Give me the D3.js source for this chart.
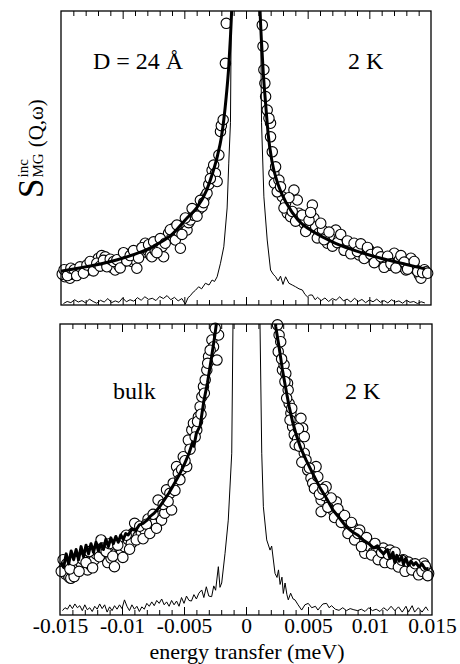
<!DOCTYPE html>
<html><head><meta charset="utf-8">
<script src="https://cdn.jsdelivr.net/npm/d3@7"></script>
<style>body{margin:0;background:#fff}svg{display:block}</style>
</head><body><svg id="c" width="460" height="664"></svg>
<script>
// ---------------- data ----------------
const xTickLabels = ["-0.015","-0.01","-0.005","0","0.005","0.01","0.015"];
const xTickValues = [-0.015,-0.01,-0.005,0,0.005,0.01,0.015];
const panelLabels = [["D = 24 Å","2 K"],["bulk","2 K"]];

// top panel (D = 24 Å) measured points
const topPtsX = [-0.01468,-0.01455,-0.01441,-0.01427,-0.01413,-0.01400,-0.01386,-0.01360,-0.01332,-0.01305,-0.01278,-0.01250,-0.01224,-0.01197,-0.01170,-0.01142,-0.01115,-0.01088,-0.01061,-0.01034,-0.01006,-0.00980,-0.00952,-0.00925,-0.00898,-0.00885,-0.00858,-0.00830,-0.00817,-0.00803,-0.00776,-0.00763,-0.00736,-0.00709,-0.00681,-0.00668,-0.00641,-0.00628,-0.00600,-0.00587,-0.00573,-0.00546,-0.00532,-0.00505,-0.00478,-0.00465,-0.00451,-0.00424,-0.00410,-0.00383,-0.00356,-0.00330,-0.00316,-0.00302,-0.00275,-0.00262,-0.00248,-0.00234,-0.00220,-0.00207,-0.00200,-0.00185,-0.00167,-0.00160,
 -0.01490,-0.01475,-0.01448,-0.01420,-0.01393,-0.01373,-0.01346,-0.01318,-0.01290,-0.01264,-0.01237,-0.01210,-0.01183,-0.01156,-0.01128,-0.01101,-0.01074,-0.01047,-0.01020,-0.00993,-0.00966,-0.00939,-0.00912,-0.00871,-0.00844,-0.00790,-0.00749,-0.00722,-0.00695,-0.00655,-0.00614,-0.00560,-0.00519,-0.00492,-0.00437,-0.00397,-0.00370,-0.00343,-0.00289,
 0.00132,0.00145,0.00153,0.00159,0.00172,0.00199,0.00199,0.00213,0.00226,0.00230,0.00267,0.00294,0.00321,0.00335,0.00362,0.00389,0.00416,0.00429,0.00443,0.00470,0.00497,0.00538,0.00551,0.00565,0.00592,0.00620,0.00646,0.00660,0.00687,0.00714,0.00728,0.00755,0.00782,0.00809,0.00836,0.00863,0.00890,0.00917,0.00945,0.00972,0.00999,0.01026,0.01053,0.01080,0.01107,0.01134,0.01161,0.01188,0.01202,0.01229,0.01242,0.01270,0.01297,0.01324,0.01337,0.01351,0.01378,0.01405,0.01419,0.01446,0.01459,
 0.00138,0.00186,0.00240,0.00253,0.00280,0.00308,0.00348,0.00375,0.00402,0.00456,0.00484,0.00511,0.00524,0.00578,0.00606,0.00633,0.00673,0.00701,0.00741,0.00768,0.00795,0.00822,0.00850,0.00876,0.00903,0.00931,0.00958,0.00985,0.01012,0.01040,0.01066,0.01094,0.01120,0.01148,0.01175,0.01215,0.01256,0.01283,0.01310,0.01364,0.01392,0.01432,0.01473];
const topPtsY = [9.6,11.0,11.9,9.1,10.5,11.4,10.8,11.5,11.9,12.3,11.9,13.5,13.0,15.9,16.8,16.4,14.2,12.8,11.9,13.5,14.2,16.4,17.2,14.8,15.3,12.5,17.5,18.0,21.0,18.7,17.0,16.4,18.5,20.5,19.8,16.4,22.5,24.4,23.0,26.1,22.1,25.0,19.3,27.5,25.5,28.0,28.9,30.5,31.2,32.5,33.4,37.0,38.0,41.0,45.8,47.6,44.8,42.0,51.0,59.0,61.0,63.0,82.2,95.8,
 10.5,12.0,10.0,12.5,12.0,10.0,13.0,10.8,13.6,14.8,11.6,14.2,13.2,15.2,13.0,15.6,14.8,15.4,12.6,17.8,15.0,16.8,18.5,16.0,19.5,20.5,21.5,17.8,22.6,21.0,25.6,27.2,24.0,29.6,32.8,30.2,35.6,34.8,43.0,
 95.2,80.0,75.4,70.9,66.3,61.8,57.2,52.1,44.8,41.4,42.5,36.8,34.6,31.2,30.0,39.1,35.7,31.2,29.0,27.8,26.0,34.0,29.5,26.6,24.5,25.5,23.0,21.0,22.0,23.2,25.5,22.5,21.5,20.0,18.7,19.5,19.8,17.0,17.6,16.5,18.7,15.9,16.8,15.0,14.7,14.2,13.5,15.5,17.6,14.5,15.3,13.0,11.9,13.5,15.9,13.0,12.0,10.2,9.1,12.0,11.3,
 88,63.5,47.0,38.5,40.2,33.0,36.5,31.8,28.5,30.6,25.0,28.8,31.5,22.8,27.8,22.2,24.8,20.0,21.2,24.0,18.6,21.8,17.4,21.0,18.2,20.8,15.8,19.6,17.2,14.4,18.0,16.4,12.8,16.6,14.0,12.6,16.8,14.6,12.2,14.8,11.4,11.0,10.8];
const topFitX = [-0.0150,-0.0135,-0.0120,-0.0105,-0.0090,-0.0075,-0.0060,-0.0048,-0.0040,-0.0032,-0.0027,-0.0023,-0.0020,-0.0018,-0.0016,-0.0014,-0.00125,-0.00112,0,0.00110,0.00125,0.0014,0.0016,0.0018,0.0021,0.0026,0.0033,0.0042,0.0055,0.0070,0.0085,0.0100,0.0115,0.0130,0.0145];
const topFitY = [11.5,12.6,13.8,15.3,17.3,20.0,24.0,29.5,33.0,39.0,45,51,57,63,71,81,92,104,400,104,90,79,68,58,49,41,34.5,29,24.8,21.5,19,17,15.3,13.8,12.3];
const topResX = [-0.01480,-0.01450,-0.01420,-0.01390,-0.01360,-0.01330,-0.01300,-0.01270,-0.01240,-0.01210,-0.01180,-0.01150,-0.01120,-0.01090,-0.01060,-0.01030,-0.01000,-0.00970,-0.00940,-0.00910,-0.00880,-0.00850,-0.00820,-0.00790,-0.00760,-0.00730,-0.00700,-0.00670,-0.00640,-0.00610,-0.00580,-0.00550,-0.00520,-0.00492,-0.00470,-0.00450,-0.00437,-0.00410,-0.00384,-0.00360,-0.00329,-0.00300,-0.00275,-0.00255,-0.00234,-0.00207,-0.00180,-0.00153,-0.00140,-0.00126,-0.00119,-0.00090,0,
 0.00090,0.00118,0.00126,0.00145,0.00172,0.00199,0.00220,0.00240,0.00260,0.00280,0.00300,0.00321,0.00348,0.00375,0.00402,0.00430,0.00457,0.00478,0.00498,0.00518,0.00538,0.00560,0.00580,0.00610,0.00640,0.00670,0.00700,0.00730,0.00760,0.00790,0.00820,0.00850,0.00880,0.00910,0.00940,0.00970,0.01000,0.01030,0.01060,0.01090,0.01120,0.01150,0.01180,0.01210,0.01240,0.01270,0.01300,0.01330,0.01360,0.01390,0.01420,0.01450];
const topResY = [0.5,1.2,0.8,1.8,1.0,1.5,0.7,2.0,1.2,0.6,1.6,1.0,2.2,0.8,1.4,0.9,2.4,1.1,1.8,1.3,2.5,1.6,2.8,1.9,2.3,1.5,2.9,2.2,3.2,1.8,2.6,1.4,2.2,0.3,2.5,3.2,4.0,5.0,6.2,5.5,7.4,6.8,8.5,8.0,9.6,14.2,19.8,33,48,62,100,200,400,
 200,100,62,36.8,22.1,11.9,10.5,9.6,8.2,9.8,7.0,9.6,7.4,6.8,6.2,5.5,5.1,3.6,2.8,3.4,3.4,1.8,2.6,1.5,2.4,1.2,2.2,1.6,2.8,1.4,2.0,1.0,2.3,1.2,1.9,0.8,1.7,1.1,2.0,0.9,1.5,0.7,1.8,1.0,1.4,0.6,1.6,0.9,1.2,0.5,1.1,0.7];

// bottom panel (bulk) measured points
const botPtsX = [-0.01468,-0.01455,-0.01441,-0.01427,-0.01413,-0.01400,-0.01386,-0.01373,-0.01360,-0.01332,-0.01305,-0.01278,-0.01251,-0.01224,-0.01210,-0.01197,-0.01169,-0.01142,-0.01115,-0.01088,-0.01061,-0.01047,-0.01020,-0.01006,-0.00980,-0.00952,-0.00925,-0.00912,-0.00898,-0.00871,-0.00844,-0.00817,-0.00790,-0.00763,-0.00736,-0.00709,-0.00695,-0.00681,-0.00655,-0.00641,-0.00614,-0.00600,-0.00587,-0.00560,-0.00546,-0.00519,-0.00506,-0.00478,-0.00465,-0.00437,-0.00424,-0.00397,-0.00384,-0.00370,-0.00356,-0.00343,-0.00329,-0.00316,-0.00302,-0.00275,-0.00262,-0.00234,-0.00221,
 -0.01490,-0.01475,-0.01448,-0.01420,-0.01393,-0.01346,-0.01318,-0.01290,-0.01264,-0.01237,-0.01183,-0.01156,-0.01128,-0.01101,-0.01074,-0.01034,-0.00993,-0.00966,-0.00939,-0.00885,-0.00857,-0.00830,-0.00803,-0.00776,-0.00749,-0.00722,-0.00668,-0.00628,-0.00573,-0.00533,-0.00492,-0.00451,-0.00410,-0.00391,-0.00363,-0.00336,-0.00309,-0.00289,-0.00248,
 0.00254,0.00267,0.00280,0.00294,0.00307,0.00321,0.00335,0.00340,0.00348,0.00362,0.00376,0.00389,0.00416,0.00443,0.00457,0.00470,0.00470,0.00484,0.00498,0.00524,0.00538,0.00565,0.00579,0.00606,0.00606,0.00633,0.00646,0.00673,0.00700,0.00728,0.00755,0.00782,0.00809,0.00836,0.00863,0.00890,0.00917,0.00945,0.00958,0.00985,0.00999,0.01026,0.01053,0.01080,0.01107,0.01134,0.01161,0.01188,0.01215,0.01242,0.01270,0.01297,0.01324,0.01351,0.01378,0.01405,0.01432,0.01459,0.01473,
 0.00260,0.00287,0.00314,0.00328,0.00355,0.00369,0.00396,0.00423,0.00430,0.00450,0.00511,0.00552,0.00592,0.00619,0.00660,0.00687,0.00714,0.00741,0.00768,0.00795,0.00822,0.00850,0.00876,0.00903,0.00931,0.00972,0.01012,0.01040,0.01066,0.01094,0.01120,0.01148,0.01175,0.01202,0.01229,0.01256,0.01283,0.01310,0.01338,0.01364,0.01392,0.01419,0.01446,0.01466];
const botPtsY = [16.0,14.0,14.3,13.0,12.6,15.0,13.2,17.5,16.6,18.0,20.0,15.5,17.0,18.9,21.0,22.3,25.8,20.5,18.0,19.5,16.6,21.2,23.0,21.2,23.5,26.0,24.6,28.1,31.5,27.0,28.1,29.2,33.0,30.3,31.5,39.5,34.0,32.6,35.0,43.0,41.8,36.1,45.3,51.0,48.7,50.0,54.4,51.0,60.1,63.6,65.9,63.6,68.1,71.6,75.0,78.5,80.8,84.2,88.8,94.5,92.2,87.6,96.2,
 15.0,19.0,17.5,15.8,18.8,15.0,19.2,18.0,21.8,16.2,20.0,23.0,21.8,24.5,20.2,24.0,19.8,27.4,22.6,25.8,30.5,26.2,31.2,28.0,34.6,29.8,38.0,39.0,42.8,46.5,53.0,57.0,61.2,66.5,69.0,76.2,86.5,91.0,98.5,
 99.7,96.2,93.9,84.2,86.0,83.0,79.6,77.3,72.7,69.3,64.7,62.0,60.5,67.6,64.2,61.3,55.6,53.3,49.8,47.0,45.3,51.0,47.5,39.5,35.5,41.0,44.1,38.4,36.0,38.9,35.0,33.0,31.5,29.0,30.3,26.9,29.2,24.6,21.2,25.0,23.5,21.5,22.3,20.0,23.0,19.5,22.3,20.0,18.5,17.8,19.0,16.0,17.5,16.6,14.9,16.0,17.8,15.5,14.3,
 90.5,88.0,80.2,74.5,67.0,71.0,58.5,64.0,58.0,52.5,50.5,43.5,41.5,43.2,37.0,40.2,33.5,36.5,31.8,34.2,28.0,31.8,25.8,28.0,23.5,26.6,20.6,24.6,19.0,21.5,18.0,20.8,17.6,21.6,16.5,18.8,15.0,18.2,15.5,17.6,13.8,15.0,16.8,13.5];
const botFitX = [-0.01490,-0.01470,-0.01450,-0.01430,-0.01410,-0.01390,-0.01370,-0.01350,-0.01330,-0.01310,-0.01290,-0.01270,-0.01250,-0.01230,-0.01210,-0.01190,-0.01170,-0.01150,-0.01130,-0.01110,-0.01090,-0.01070,-0.01050,-0.01030,-0.01010,-0.00990,-0.00970,-0.00950,-0.00920,-0.00890,-0.00860,-0.00830,-0.00800,-0.00770,-0.00740,-0.00700,-0.00660,-0.00620,-0.00580,-0.00540,-0.00500,-0.00460,-0.00430,-0.00420,-0.00400,-0.00370,-0.00340,-0.00310,-0.00280,-0.00250,-0.00230,0,
 0.00235,0.00240,0.00267,0.00294,0.00320,0.00348,0.00375,0.00402,0.00440,0.00484,0.00540,0.00592,0.00650,0.00701,0.00760,0.00809,0.00860,0.00900,0.00945,0.00990,0.01030,0.01060,0.01080,0.01110,0.01140,0.01160,0.01185,0.01200,0.01216,0.01235,0.01255,0.01270,0.01290,0.01310,0.01330,0.01351,0.01370,0.01395,0.01420,0.01445,0.01473];
const botFitY = [18.0,16.5,21.0,17.5,22.0,19.0,22.5,19.0,23.5,20.0,24.0,21.0,24.5,21.5,25.0,22.0,24.5,22.5,26.0,23.5,26.5,24.5,27.0,25.0,27.5,26.0,28.0,27.5,29.5,29.0,31.0,31.5,32.5,34.0,35.0,37.0,39.5,42.0,45.0,48.0,51.5,55.5,59.5,58.0,62.5,65.0,73.5,80.0,88.0,96.5,103,400,
 103,99,92,84.2,78,71.6,66.5,62.4,57.5,53.3,48.5,44.1,40,36.1,33,30.3,28.5,27.5,25.8,24.5,23.0,23.8,22.3,21.0,22.5,19.5,21.5,18.0,20.5,18.5,20.0,17.5,19.5,17.0,18.5,17.2,18.0,16.5,17.5,15.8,16.0];
const botResX = [-0.01480,-0.01460,-0.01440,-0.01420,-0.01400,-0.01380,-0.01360,-0.01340,-0.01320,-0.01300,-0.01280,-0.01260,-0.01240,-0.01220,-0.01200,-0.01180,-0.01160,-0.01140,-0.01120,-0.01100,-0.01080,-0.01060,-0.01040,-0.01020,-0.01000,-0.00980,-0.00960,-0.00940,-0.00920,-0.00900,-0.00880,-0.00860,-0.00840,-0.00820,-0.00800,-0.00780,-0.00760,-0.00740,-0.00720,-0.00700,-0.00680,-0.00660,-0.00640,-0.00620,-0.00600,-0.00580,-0.00560,-0.00540,-0.00520,-0.00500,-0.00480,-0.00460,-0.00440,-0.00420,-0.00400,-0.00380,-0.00357,-0.00340,-0.00320,-0.00300,-0.00277,-0.00260,-0.00245,-0.00223,-0.00210,-0.00196,-0.00169,-0.00143,-0.00115,-0.00105,-0.00080,0,
 0.00080,0.00113,0.00127,0.00140,0.00167,0.00194,0.00207,0.00234,0.00250,0.00262,0.00275,0.00290,0.00301,0.00315,0.00330,0.00341,0.00360,0.00380,0.00395,0.00420,0.00449,0.00475,0.00502,0.00530,0.00560,0.00580,0.00600,0.00620,0.00650,0.00670,0.00690,0.00720,0.00750,0.00780,0.00810,0.00840,0.00870,0.00900,0.00930,0.00960,0.00990,0.01020,0.01050,0.01080,0.01110,0.01140,0.01170,0.01200,0.01230,0.01260,0.01290,0.01310,0.01340,0.01360,0.01390,0.01420,0.01450,0.01470];
const botResY = [1.5,2.5,2.0,3.5,2.2,3.8,2.5,3.2,1.5,3.5,1.8,2.5,1.2,3.0,2.0,3.8,2.2,3.5,1.0,2.8,1.5,3.2,2.0,3.5,2.2,5.2,3.0,1.5,3.5,2.0,3.0,1.2,2.8,2.0,4.0,3.0,4.5,3.2,5.0,4.0,5.5,3.5,4.5,3.0,5.0,3.5,4.8,3.0,6.0,4.0,6.5,5.0,4.8,7.0,5.5,7.5,8.6,6.0,9.7,6.5,6.3,10.0,8.5,16.6,9.5,11.0,21.2,32.6,55.6,100,200,400,
 200,100,55.6,37.2,25.8,22.3,23.7,14.3,12.9,15.5,10.5,13.0,7.4,11.0,7.0,5.2,7.5,5.5,5.2,3.5,1.7,3.5,4.0,2.5,3.0,1.7,2.8,3.8,4.0,2.5,3.2,2.0,1.6,2.5,1.5,2.2,1.8,1.5,2.0,1.2,2.5,1.5,2.0,1.2,2.5,1.5,3.0,1.5,2.8,1.0,3.0,1.0,3.2,1.0,2.5,1.0,2.8,1.5];

// ---------------- drawing ----------------
const FONT = "'Liberation Serif','Times New Roman',Times,serif";
const svg = d3.select("#c");
const panels = [
  {left:61, right:431, top:11, bottom:305, ptsX:topPtsX, ptsY:topPtsY, fitX:topFitX, fitY:topFitY, resX:topResX, resY:topResY, fitCurve:d3.curveMonotoneX, labels:panelLabels[0], lab:[[93,69],[348,69]], showTickLabels:false},
  {left:60, right:432, top:324, bottom:615, ptsX:botPtsX, ptsY:botPtsY, fitX:botFitX, fitY:botFitY, resX:botResX, resY:botResY, fitCurve:d3.curveLinear, labels:panelLabels[1], lab:[[113,399],[345,399]], showTickLabels:true}
];
const minorTicks = d3.range(-15,16).map(d=>d/1000);

panels.forEach((p,i)=>{
  const x = d3.scaleLinear().domain([-0.015,0.015]).range([p.left,p.right]);
  const y = d3.scaleLinear().domain([0,100]).range([p.bottom,p.top]);
  const g = svg.append("g");
  const cid = "clip"+i;
  svg.append("clipPath").attr("id",cid).append("rect")
    .attr("x",p.left).attr("y",p.top).attr("width",p.right-p.left).attr("height",p.bottom-p.top);

  g.append("g").selectAll("circle").data(p.ptsX.map((v,k)=>[v,p.ptsY[k]])).join("circle")
    .attr("cx",d=>x(d[0])).attr("cy",d=>y(d[1])).attr("r",5.2)
    .attr("fill","#fff").attr("stroke","#000").attr("stroke-width",1.1);

  g.append("path").attr("clip-path",`url(#${cid})`)
    .datum(p.resX.map((v,k)=>[v,p.resY[k]]))
    .attr("fill","none").attr("stroke","#000").attr("stroke-width",1)
    .attr("d",d3.line().x(d=>x(d[0])).y(d=>y(d[1])));

  g.append("path").attr("clip-path",`url(#${cid})`)
    .datum(p.fitX.map((v,k)=>[v,p.fitY[k]]))
    .attr("fill","none").attr("stroke","#000").attr("stroke-width",3).attr("stroke-linejoin","round")
    .attr("d",d3.line().curve(p.fitCurve).x(d=>x(d[0])).y(d=>y(d[1])));

  const mk = (axisFn, ypos, vals, size) => {
    const a = g.append("g").attr("transform",`translate(0,${ypos})`)
      .call(axisFn(x).tickValues(vals).tickSize(size).tickFormat(""));
    a.select(".domain").remove();
    a.selectAll("line").attr("stroke","#000").attr("stroke-width",1);
  };
  const minor = minorTicks.filter(v=>Math.round(v*1000)%5!==0);
  const major = xTickValues.slice(1,-1);
  mk(d3.axisBottom, p.bottom, minor, -5);
  mk(d3.axisBottom, p.bottom, major, -8);
  mk(d3.axisTop, p.top, minor, -5);
  mk(d3.axisTop, p.top, major, -8);

  g.append("rect").attr("x",p.left).attr("y",p.top).attr("width",p.right-p.left).attr("height",p.bottom-p.top)
    .attr("fill","none").attr("stroke","#000").attr("stroke-width",1.3);

  p.labels.forEach((t,k)=>{
    g.append("text").attr("x",p.lab[k][0]).attr("y",p.lab[k][1]).attr("font-size",24).text(t);
  });

  if(p.showTickLabels){
    const a = g.append("g").attr("transform",`translate(0,${p.bottom})`)
      .call(d3.axisBottom(x).tickValues(xTickValues).tickSize(0).tickPadding(4)
        .tickFormat((d,k)=>xTickLabels[k]));
    a.select(".domain").remove();
    a.selectAll("text").attr("font-size",21.5).attr("fill","#000").attr("dy",null).attr("y",18);
    g.append("text").attr("x",247).attr("y",659).attr("text-anchor","middle").attr("font-size",22)
      .text("energy transfer (meV)");
  }
});

const yl = svg.append("g").attr("transform","translate(43,198) rotate(-90)");
const S = yl.append("text").attr("x",0).attr("y",0).attr("font-size",35).style("font-family",FONT).text("S");
const sW = S.node().getComputedTextLength();
const inc = yl.append("text").attr("x",sW+1).attr("y",-15).attr("font-size",15).style("font-family",FONT).text("inc");
const mg = yl.append("text").attr("x",sW+1).attr("y",0).attr("font-size",15).style("font-family",FONT).text("MG");
const stW = Math.max(inc.node().getComputedTextLength(), mg.node().getComputedTextLength());
yl.append("text").attr("x",sW+1+stW+6).attr("y",0).attr("font-size",21).style("font-family",FONT).text("(Q,ω)");

svg.selectAll("text").style("font-family",FONT).style("fill","#000");
</script></body></html>
